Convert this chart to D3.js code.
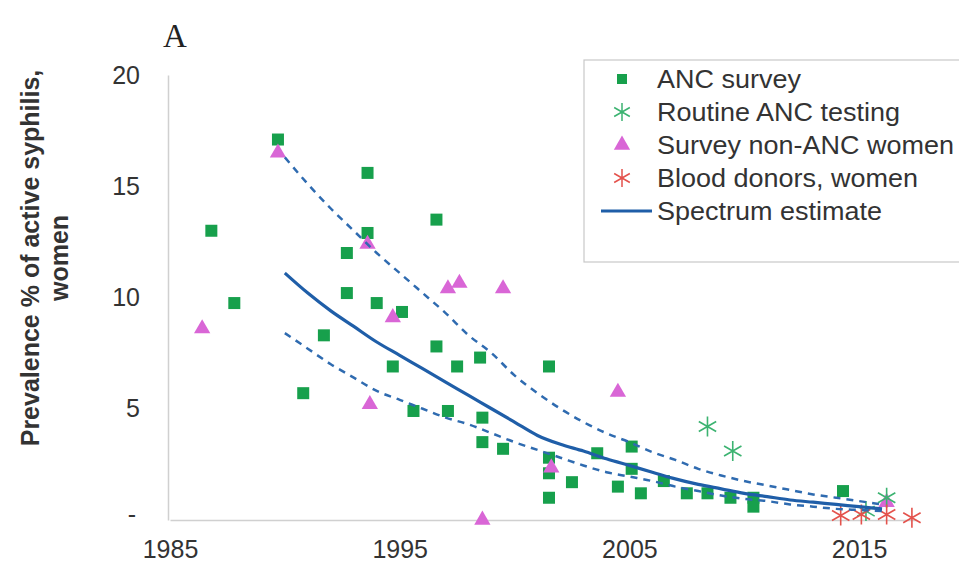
<!DOCTYPE html>
<html><head><meta charset="utf-8">
<script src="https://cdn.jsdelivr.net/npm/d3@7"></script>
<style>html,body{margin:0;padding:0;background:#fff;} svg{display:block;}</style>
</head><body>
<svg id="chart" width="959" height="568"></svg>
<script>
// ---- data ----
const ancYears  = [1986.8,1987.8,1989.7,1990.8,1991.7,1992.7,1992.7,1993.6,1993.6,1994.0,1994.7,1995.1,1995.6,1996.6,1996.6,1997.1,1997.5,1998.5,1998.6,1998.6,1999.5,2001.5,2001.5,2001.5,2001.5,2002.5,2003.6,2004.5,2005.1,2005.1,2005.5,2006.5,2007.5,2008.4,2009.4,2010.4,2010.4,2014.3];
const ancValues = [13.0,9.75,17.1,5.7,8.3,12.0,10.2,15.6,12.9,9.75,6.9,9.35,4.9,7.8,13.5,4.9,6.9,7.3,4.6,3.5,3.2,6.9,2.8,2.1,1.0,1.7,3.0,1.5,3.3,2.3,1.2,1.75,1.2,1.2,1.0,1.0,0.6,1.3];
const routineYears  = [2008.4,2009.5,2015.3,2016.2];
const routineValues = [4.2,3.1,0.4,1.0];
const nonAncYears  = [1986.4,1989.7,1993.6,1993.7,1994.7,1997.1,1997.6,1999.5,1998.6,2001.6,2004.5,2016.2];
const nonAncValues = [8.6,16.5,12.4,5.2,9.1,10.4,10.65,10.4,0,2.35,5.75,0.8];
const donorYears  = [2014.2,2015.1,2016.2,2017.3];
const donorValues = [0.2,0.25,0.25,0.1];
const estYears = [1990,1991,1992,1993,1994,1995,1996,1997,1998,1999,2000,2001,2002,2003,2004,2005,2006,2007,2008,2009,2010,2011,2012,2013,2014,2015,2016];
const estMid   = [11.1,10.2,9.4,8.7,8.0,7.4,6.8,6.2,5.6,5.0,4.4,3.8,3.4,3.1,2.75,2.45,2.15,1.85,1.6,1.4,1.2,1.05,0.9,0.8,0.7,0.6,0.5];
const estUpper = [16.3,15.1,14.0,13.0,12.0,11.1,10.2,9.3,8.3,7.5,6.5,5.7,5.0,4.4,3.9,3.5,3.05,2.7,2.3,2.0,1.75,1.55,1.35,1.15,1.0,0.85,0.7];
const estLower = [8.4,7.7,7.0,6.4,5.8,5.4,5.0,4.6,4.3,3.9,3.5,3.15,2.8,2.45,2.15,1.95,1.75,1.5,1.3,1.1,0.95,0.85,0.7,0.6,0.5,0.45,0.4];
const xTicks = [1985,1995,2005,2015];
const yTicks = [0,5,10,15,20];
const legendLabels = ["ANC survey","Routine ANC testing","Survey non-ANC women","Blood donors, women","Spectrum estimate"];
const panelLabel = "A";
const yTitle = ["Prevalence % of active syphilis,","women"];

// ---- styles ----
const C = {anc:"#17a04c", routine:"#3cb371", nonAnc:"#d966d6", donor:"#e4524c", line:"#1f5ea8", dash:"#2f6bb0", axis:"#d0d0d0", text:"#333"};
const FONT = "Liberation Sans, Arial, sans-serif";

const svg = d3.select("#chart");
const x = d3.scaleLinear().domain([1985, 2017.5]).range([170, 916.5]);
const y = d3.scaleLinear().domain([0, 20]).range([520, 75]);

// axes
const gx = svg.append("g").attr("transform", `translate(0,${y(0)})`)
  .call(d3.axisBottom(x).tickValues(xTicks).tickFormat(d3.format("d")).tickSize(0).tickPadding(20));
gx.select(".domain").attr("stroke", C.axis).attr("stroke-width", 1.5);
gx.selectAll("text").attr("font-family", FONT).attr("font-size", 25).attr("fill", C.text);

const gy = svg.append("g").attr("transform", `translate(${x(1985) - 2},0)`)
  .call(d3.axisLeft(y).tickValues(yTicks).tickFormat(d => d === 0 ? "-" : d).tickSize(0).tickPadding(28));
gy.select(".domain").attr("stroke", C.axis).attr("stroke-width", 1.5);
gy.selectAll("text").attr("font-family", FONT).attr("font-size", 25).attr("fill", C.text);
gy.selectAll(".tick").filter(d => d === 0).select("text").attr("dx", -4).attr("dy", "0.1em");

// y title
const yt = svg.append("text").attr("transform", "translate(45,258) rotate(-90)")
  .attr("text-anchor", "middle").attr("font-family", FONT).attr("font-weight", "bold")
  .attr("font-size", 25).attr("fill", C.text);
yt.selectAll("tspan").data(yTitle).join("tspan").attr("x", 0).attr("dy", (d,i) => i === 0 ? "-0.25em" : "1.15em").text(d => d);

// panel label
svg.append("text").attr("x", 163).attr("y", 47).attr("font-family", "Liberation Serif, Times New Roman, serif")
  .attr("font-size", 33).attr("fill", "#222").text(panelLabel);

// markers
const asterisk = r => `M0,${-r}L0,${r}M${-r*0.87},${-r*0.5}L${r*0.87},${r*0.5}M${-r*0.87},${r*0.5}L${r*0.87},${-r*0.5}`;
const triPath = d3.symbol().type(d3.symbolTriangle).size(115)();

svg.append("g").selectAll("rect").data(ancYears.map((d,i) => [d, ancValues[i]])).join("rect")
  .attr("x", d => x(d[0]) - 6).attr("y", d => y(d[1]) - 6).attr("width", 12).attr("height", 12).attr("fill", C.anc);

svg.append("g").selectAll("path").data(nonAncYears.map((d,i) => [d, nonAncValues[i]])).join("path")
  .attr("d", triPath).attr("transform", d => `translate(${x(d[0])},${y(d[1])})`).attr("fill", C.nonAnc);

svg.append("g").selectAll("path").data(routineYears.map((d,i) => [d, routineValues[i]])).join("path")
  .attr("d", asterisk(10)).attr("transform", d => `translate(${x(d[0])},${y(d[1])})`)
  .attr("stroke", C.routine).attr("stroke-width", 1.6).attr("fill", "none");

svg.append("g").selectAll("path").data(donorYears.map((d,i) => [d, donorValues[i]])).join("path")
  .attr("d", asterisk(10)).attr("transform", d => `translate(${x(d[0])},${y(d[1])})`)
  .attr("stroke", C.donor).attr("stroke-width", 1.6).attr("fill", "none");

// estimate lines
const line = d3.line().x(d => x(d[0])).y(d => y(d[1])).curve(d3.curveMonotoneX);
svg.append("path").datum(estYears.map((d,i) => [d, estUpper[i]])).attr("d", line)
  .attr("fill", "none").attr("stroke", C.dash).attr("stroke-width", 2.5).attr("stroke-dasharray", "7,6");
svg.append("path").datum(estYears.map((d,i) => [d, estLower[i]])).attr("d", line)
  .attr("fill", "none").attr("stroke", C.dash).attr("stroke-width", 2.5).attr("stroke-dasharray", "7,6");
svg.append("path").datum(estYears.map((d,i) => [d, estMid[i]])).attr("d", line)
  .attr("fill", "none").attr("stroke", C.line).attr("stroke-width", 3.2);

// legend
const lg = svg.append("g");
lg.append("rect").attr("x", 584).attr("y", 60).attr("width", 390).attr("height", 202)
  .attr("fill", "#fff").attr("stroke", "#c8c8c8").attr("stroke-width", 1.2);
const rowY = i => 79 + i * 33;
const mx = 622;
lg.append("rect").attr("x", mx - 5).attr("y", rowY(0) - 5).attr("width", 10).attr("height", 10).attr("fill", C.anc);
lg.append("path").attr("d", asterisk(9)).attr("transform", `translate(${mx},${rowY(1)})`).attr("stroke", C.routine).attr("stroke-width", 1.5).attr("fill", "none");
lg.append("path").attr("d", triPath).attr("transform", `translate(${mx},${rowY(2)})`).attr("fill", C.nonAnc);
lg.append("path").attr("d", asterisk(9)).attr("transform", `translate(${mx},${rowY(3)})`).attr("stroke", C.donor).attr("stroke-width", 1.5).attr("fill", "none");
lg.append("line").attr("x1", 601).attr("x2", 652).attr("y1", rowY(4)).attr("y2", rowY(4)).attr("stroke", C.line).attr("stroke-width", 3);
lg.append("g").attr("transform", "translate(657,0) scale(1.08,1)")
  .selectAll("text").data(legendLabels).join("text")
  .attr("x", 0).attr("y", (d,i) => rowY(i)).attr("dy", "0.35em")
  .attr("font-family", FONT).attr("font-size", 25).attr("fill", C.text).text(d => d);
</script>
</body></html>
